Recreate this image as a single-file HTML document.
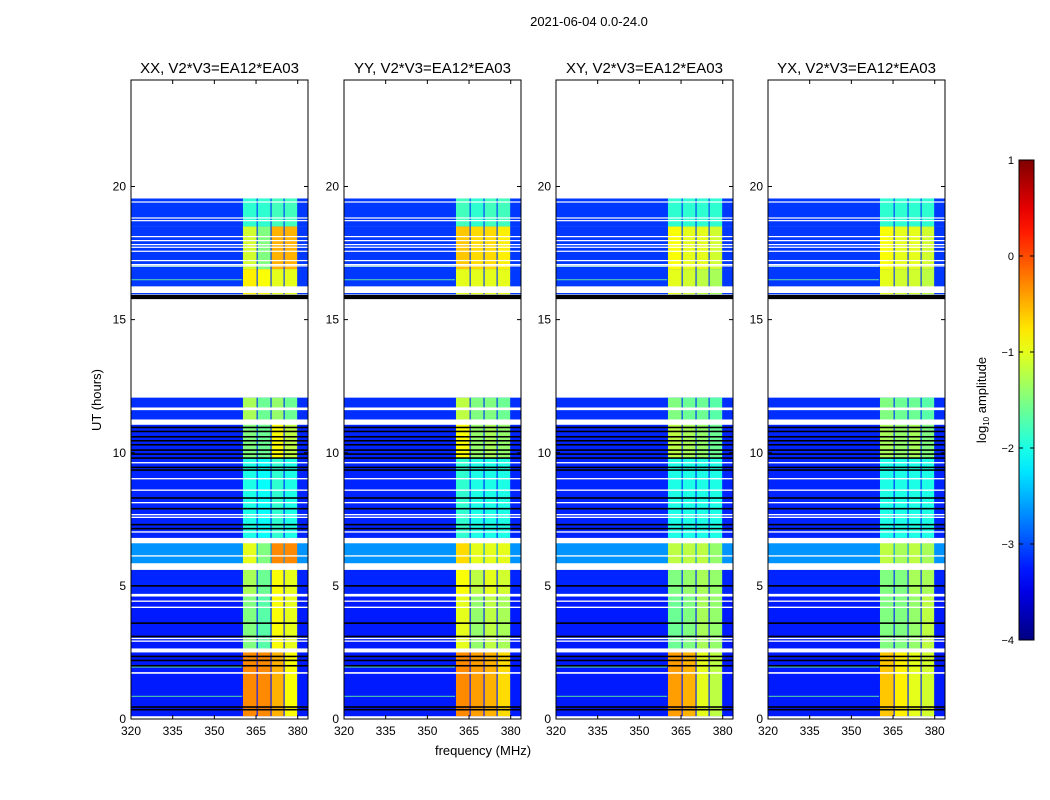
<!DOCTYPE html>
<html><head><meta charset="utf-8">
<style>
body{margin:0;background:#fff;}
svg{display:block;font-family:"Liberation Sans",sans-serif;}
</style></head>
<body>
<svg id="fig" width="1050" height="800" viewBox="0 0 1050 800" xmlns="http://www.w3.org/2000/svg">
<text x="589" y="26" font-size="13" text-anchor="middle">2021-06-04 0.0-24.0</text>
<text x="101" y="400" font-size="13" text-anchor="middle" transform="rotate(-90 101 400)">UT (hours)</text>
<text x="483" y="755" font-size="13" text-anchor="middle">frequency (MHz)</text>
<g id="panels"></g>
<g id="cbar"></g>
</svg>
<script>
const panelNames = ["XX, V2*V3=EA12*EA03","YY, V2*V3=EA12*EA03","XY, V2*V3=EA12*EA03","YX, V2*V3=EA12*EA03"];
const xTicks = [320,335,350,365,380];
const yTicks = [0,5,10,15,20];
const cbTicks = [1,0,-1,-2,-3,-4];
const cbLabels = ["1","0","\u22121","\u22122","\u22123","\u22124"];
const segStart = [0.1,2.5,4.65,5.75,6.8,9.8,11.2,15.95,16.9,18.5];
const segEnd   = [2.5,4.65,5.75,6.8,9.8,11.2,12.07,16.9,18.5,19.55];
const bgLevel  = [-3.25,-3.25,-3.2,-2.65,-3.2,-3.2,-3.15,-3.1,-3.1,-3.1];
const bandLo = [360.3,365.6,370.6,375.3];
const bandHi = [365.2,370.2,374.9,379.8];
const bandXX = [[-0.3,-0.3,-0.5,-0.9],[-1.5,-1.7,-0.9,-1.0],[-1.3,-1.6,-0.9,-1.0],[-1.0,-1.5,-0.3,-0.3],[-2.0,-2.1,-1.9,-2.0],[-1.5,-1.6,-0.9,-1.2],[-1.3,-1.6,-1.4,-1.6],[-0.8,-0.9,-1.0,-1.0],[-1.1,-1.5,-0.5,-0.5],[-1.9,-1.9,-1.8,-1.8]];
const bandYY = [[-0.3,-0.4,-0.5,-0.7],[-1.0,-1.4,-1.2,-1.3],[-0.9,-1.2,-1.0,-1.1],[-0.7,-1.0,-1.0,-1.0],[-1.9,-2.0,-2.0,-2.0],[-0.9,-1.4,-1.3,-1.4],[-1.2,-1.5,-1.5,-1.6],[-1.0,-1.0,-1.0,-1.0],[-0.6,-0.7,-0.7,-0.8],[-1.8,-1.9,-1.8,-1.8]];
const bandXY = [[-0.4,-0.5,-1.0,-1.2],[-1.6,-1.5,-1.3,-1.4],[-1.5,-1.4,-1.3,-1.4],[-1.2,-1.2,-1.2,-1.4],[-2.0,-2.0,-2.0,-2.0],[-1.2,-1.3,-1.4,-1.6],[-1.5,-1.6,-1.6,-1.7],[-1.0,-1.1,-1.2,-1.3],[-0.9,-1.0,-1.0,-1.1],[-1.9,-1.9,-1.9,-1.9]];
const bandYX = [[-0.6,-0.8,-1.0,-1.1],[-1.5,-1.5,-1.4,-1.2],[-1.5,-1.5,-1.3,-1.3],[-1.2,-1.3,-1.2,-1.3],[-2.0,-2.0,-2.0,-2.0],[-1.3,-1.4,-1.3,-1.5],[-1.5,-1.6,-1.6,-1.7],[-1.0,-1.1,-1.1,-1.2],[-0.9,-1.0,-1.0,-1.1],[-1.9,-1.9,-1.9,-1.9]];
const bandSets = [bandXX,bandYY,bandXY,bandYX];
const whiteStart = [0,1.7,2.5,2.9,3.0,4.17,4.4,4.6,5.6,6.1,6.6,7.0,7.55,7.65,8.1,8.57,9.0,9.6,11.05,11.6,16.0,17.0,17.05,17.2,17.55,17.7,17.8,17.95,18.1,18.7,18.8,19.4];
const whiteEnd   = [0.1,1.76,2.65,2.95,3.05,4.22,4.45,4.7,5.85,6.15,6.8,7.05,7.6,7.7,8.15,8.62,9.05,9.65,11.25,11.7,16.25,17.04,17.09,17.24,17.59,17.74,17.84,17.99,18.14,18.74,18.84,19.44];
const blackT = [0.35,0.45,2.0,2.2,2.35,3.1,3.6,5.0,7.15,7.3,7.9,8.3,9.35,9.45,9.8,9.95,10.1,10.3,10.45,10.6,10.8,10.95,15.8,15.85,15.9];
const rfiT = [0.85,1.95,16.5,17.0];

const NS="http://www.w3.org/2000/svg";
const panelLeft=[131,344,556,768], W=177, TOP=80, BOT=719;
const fMin=320, fMax=383.7, tMin=0, tMax=24;
function jet(v){
  let n=(v+4)/5; n=Math.max(0,Math.min(1,n));
  const c=x=>Math.round(255*Math.max(0,Math.min(1,x)));
  return `rgb(${c(1.5-Math.abs(4*n-3))},${c(1.5-Math.abs(4*n-2))},${c(1.5-Math.abs(4*n-1))})`;
}
function mk(tag,attrs,parent){const e=document.createElementNS(NS,tag);for(const k in attrs)e.setAttribute(k,attrs[k]);parent.appendChild(e);return e;}
const root=document.getElementById('panels');
panelNames.forEach((name,p)=>{
  const L=panelLeft[p];
  const xs=f=>L+(f-fMin)/(fMax-fMin)*W;
  const ys=t=>BOT-(t-tMin)/(tMax-tMin)*(BOT-TOP);
  const g=mk('g',{},root);
  
  
  mk('rect',{x:L,y:TOP,width:W,height:BOT-TOP,fill:'#fff'},g);
  const bands=bandSets[p];
  segStart.forEach((t0,s)=>{
    const t1=segEnd[s];
    const r=mk('rect',{x:L,y:ys(t1),width:W,height:ys(t0)-ys(t1),fill:jet(bgLevel[s])},g);
    
    
    bandLo.forEach((f0,b)=>{
      const br=mk('rect',{x:xs(f0),y:ys(t1),width:xs(bandHi[b])-xs(f0),height:ys(t0)-ys(t1),fill:jet(bands[s][b])},g);
      
      
    });
  });
  rfiT.forEach(t=>{
    const l=mk('rect',{x:L,y:ys(t)-0.6,width:xs(360)-L,height:1.2,fill:jet(-1.6),opacity:0.7},g);
    
    
  });
  whiteStart.forEach((t0,i)=>{
    const w=mk('rect',{x:L,y:ys(whiteEnd[i]),width:W,height:Math.max(1.2,ys(t0)-ys(whiteEnd[i])),fill:'#fff'},g);
    
    
  });
  blackT.forEach(t=>{
    const k=mk('rect',{x:L,y:ys(t)-0.8,width:W,height:1.6,fill:'#000'},g);
    
    
  });
  const fr=mk('rect',{x:L,y:TOP,width:W,height:BOT-TOP,fill:'none',stroke:'#000','stroke-width':1},g);
  
  
  xTicks.forEach(v=>{
    const x=xs(v);
    mk('line',{x1:x,x2:x,y1:BOT,y2:BOT-4,stroke:'#000'},g);
    mk('line',{x1:x,x2:x,y1:TOP,y2:TOP+4,stroke:'#000'},g);
    const tx=mk('text',{x:x,y:BOT+16,'font-size':12,'text-anchor':'middle'},g);
    tx.textContent=v;
    
    
  });
  yTicks.forEach(v=>{
    const y=ys(v);
    mk('line',{x1:L,x2:L+4,y1:y,y2:y,stroke:'#000'},g);
    mk('line',{x1:L+W,x2:L+W-4,y1:y,y2:y,stroke:'#000'},g);
    const tx=mk('text',{x:L-5,y:y+4,'font-size':12,'text-anchor':'end'},g);
    tx.textContent=v;
    
    
  });
  const tt=mk('text',{x:L+W/2,y:73,'font-size':15,'text-anchor':'middle'},g);
  tt.textContent=name;
  
  
});
const cb=document.getElementById('cbar');
const cbX=1019,cbW=15,cbT=160,cbB=640;
const cy=v=>cbB-(v+4)/5*(cbB-cbT);
const defs=mk('defs',{},cb);
const lg=mk('linearGradient',{id:'jetg',x1:0,y1:1,x2:0,y2:0},defs);
for(let i=0;i<=20;i++){const v=-4+i*5/20;mk('stop',{offset:(i/20),'stop-color':jet(v)},lg);}
const cr=mk('rect',{x:cbX,y:cbT,width:cbW,height:cbB-cbT,fill:'url(#jetg)',stroke:'#000'},cb);


cbTicks.forEach((v,i)=>{
  const y=cy(v);
  mk('line',{x1:cbX,x2:cbX+4,y1:y,y2:y,stroke:'#000'},cb);
  mk('line',{x1:cbX+cbW,x2:cbX+cbW-4,y1:y,y2:y,stroke:'#000'},cb);
  const tx=mk('text',{x:cbX-5,y:y+4,'font-size':11,'text-anchor':'end'},cb);
  tx.textContent=cbLabels[i];
  
  
});
const cl=mk('text',{x:986,y:400,'font-size':13,'text-anchor':'middle',transform:'rotate(-90 986 400)'},cb);
cl.innerHTML='log<tspan font-size="8" dy="3">10</tspan><tspan dy="-3"> amplitude</tspan>';


</script>
</body></html>
